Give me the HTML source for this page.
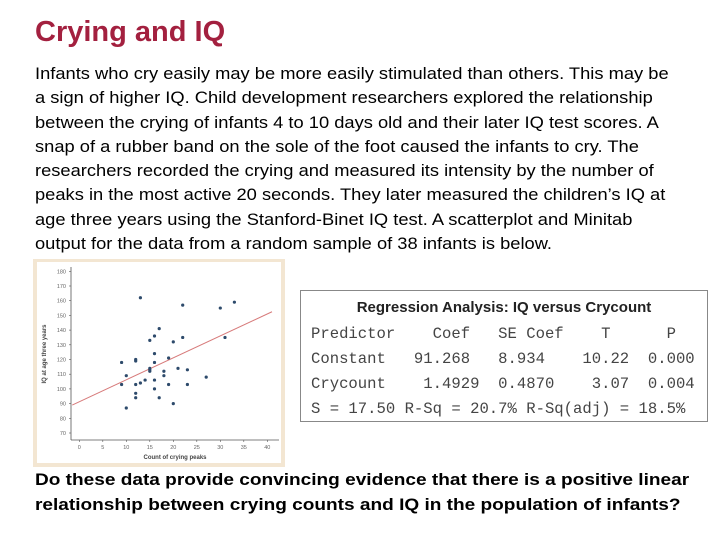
<!DOCTYPE html>
<html><head><meta charset="utf-8"><style>
body{margin:0;width:720px;height:540px;background:#fff;position:relative;overflow:hidden;font-family:"Liberation Sans",sans-serif}
#title{position:absolute;left:35px;top:16px;font-size:29px;font-weight:bold;color:#a3203f;margin:0}
#para{position:absolute;left:35px;top:62px;width:700px;font-size:17px;line-height:24.3px;color:#000;margin:0;transform:scaleX(1.077);transform-origin:left top;white-space:nowrap}
#question{position:absolute;left:35px;top:467px;width:700px;font-size:16.8px;line-height:25px;font-weight:bold;margin:0;transform:scaleX(1.135);transform-origin:left top;white-space:nowrap}
#table{position:absolute;left:300px;top:290px;width:408px;height:132px;border:1.5px solid #888;box-sizing:border-box;font-family:"Liberation Mono",monospace;font-size:15.6px;color:#444}
#table .h{position:absolute;left:0;width:100%;top:8px;text-align:center;font-family:"Liberation Sans",sans-serif;font-weight:bold;font-size:15px;color:#222}
#table pre{position:absolute;left:10px;top:31px;margin:0;font-family:inherit;line-height:25px}
</style></head><body>
<h1 id="title">Crying and IQ</h1>
<p id="para">Infants who cry easily may be more easily stimulated than others. This may be<br>a sign of higher IQ. Child development researchers explored the relationship<br>between the crying of infants 4 to 10 days old and their later IQ test scores. A<br>snap of a rubber band on the sole of the foot caused the infants to cry. The<br>researchers recorded the crying and measured its intensity by the number of<br>peaks in the most active 20 seconds. They later measured the children’s IQ at<br>age three years using the Stanford-Binet IQ test. A scatterplot and Minitab<br>output for the data from a random sample of 38 infants is below.</p>
<svg id="chart" style="position:absolute;left:33px;top:259px" width="252" height="208"></svg>
<div id="table">
<div class="h">Regression Analysis: IQ versus Crycount</div>
<pre>Predictor    Coef   SE Coef    T      P
Constant   91.268   8.934    10.22  0.000
Crycount    1.4929  0.4870    3.07  0.004
S = 17.50 R-Sq = 20.7% R-Sq(adj) = 18.5%</pre>
</div>
<p id="question">Do these data provide convincing evidence that there is a positive linear<br>relationship between crying counts and IQ in the population of infants?</p>
<script>
const crycount=[13,22,30,33,17,16,15,20,22,31,16,9,12,12,16,19,15,15,21,23,18,18,10,27,9,12,13,14,16,16,19,23,12,12,17,20,10,15];
const iq=[162,157,155,159,141,136,133,132,135,135,124,118,119,120,118,121,114,112,114,113,112,109,109,108,103,103,104,106,106,100,103,103,97,94,94,90,87,113];
const xTicks=[0,5,10,15,20,25,30,35,40];
const yTicks=[70,80,90,100,110,120,130,140,150,160,170,180];
const intercept=91.268, slope=1.4929;
const NS="http://www.w3.org/2000/svg";
const svg=document.getElementById('chart');
const sx=v=>46.3+v*4.7, sy=v=>12.3+(180-v)*1.47;
function mk(t,a){const e=document.createElementNS(NS,t);for(const k in a)e.setAttribute(k,a[k]);svg.appendChild(e);return e;}
const bg=mk('rect',{x:0,y:0,width:252,height:208,fill:'#f3e6d2'});


const pa=mk('rect',{x:4,y:3,width:244,height:201,fill:'#fff'});


const ya=mk('line',{x1:38,y1:8,x2:38,y2:181,stroke:'#555','stroke-width':0.8});


const xa=mk('line',{x1:38,y1:181,x2:246,y2:181,stroke:'#555','stroke-width':0.8});


yTicks.forEach(v=>{
 mk('line',{x1:36,x2:38,y1:sy(v),y2:sy(v),stroke:'#555','stroke-width':0.6});
 const t=mk('text',{x:33,y:sy(v)+2,'font-size':5.5,'text-anchor':'end',fill:'#666'});t.textContent=v;
 
 
});
xTicks.forEach(v=>{
 mk('line',{x1:sx(v),x2:sx(v),y1:181,y2:183,stroke:'#555','stroke-width':0.6});
 const t=mk('text',{x:sx(v),y:190,'font-size':5.5,'text-anchor':'middle',fill:'#666'});t.textContent=v;
 
 
});
const xt=mk('text',{x:142,y:200,'font-size':6,'text-anchor':'middle',fill:'#444','font-weight':'bold'});xt.textContent='Count of crying peaks';


const yt=mk('text',{x:0,y:0,'font-size':6,'text-anchor':'middle',fill:'#444','font-weight':'bold',transform:'translate(13,95) rotate(-90)'});yt.textContent='IQ at age three years';


const x0=-1.5,x1=41;
const ln=mk('line',{x1:sx(x0),y1:sy(intercept+slope*x0),x2:sx(x1),y2:sy(intercept+slope*x1),stroke:'#d77a7a','stroke-width':1});


crycount.forEach((c,i)=>{
 const p=mk('circle',{cx:sx(c),cy:sy(iq[i]),r:1.6,fill:'#2d4a6b'});
 
 
});
</script>
</body></html>
